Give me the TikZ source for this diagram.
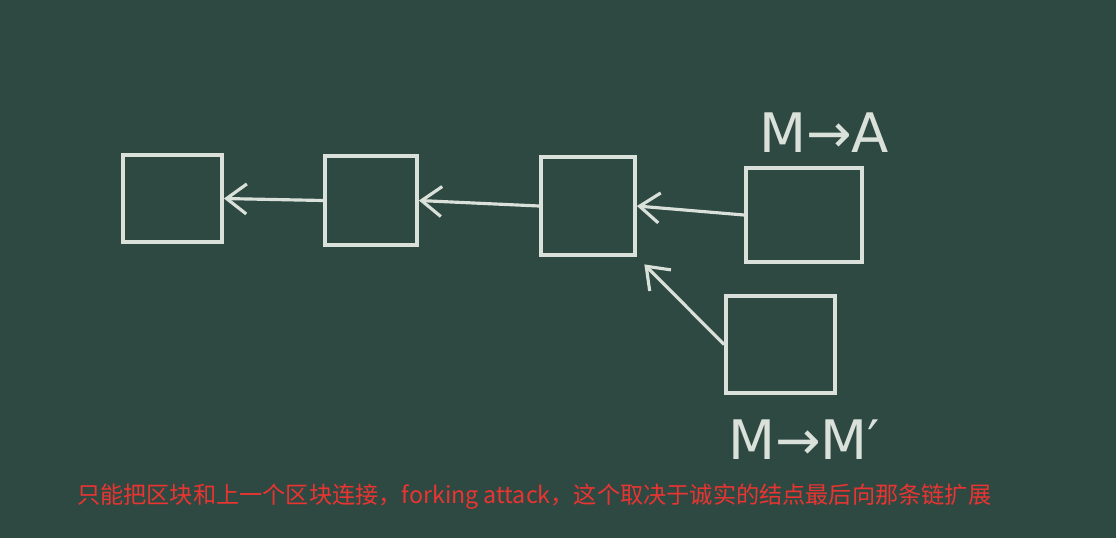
\documentclass[tikz,border=0pt]{standalone}
\usepackage{fontspec}
\usepackage{tikz}
\usetikzlibrary{arrows.meta}
\setsansfont{DejaVu Sans}
\newfontfamily\cjk{Noto Sans CJK SC}

\definecolor{board}{RGB}{46,73,65}
\definecolor{chalk}{RGB}{218,224,218}
\definecolor{subred}{RGB}{234,52,50}

\tikzset{
  blk/.style={draw=chalk, line width=2.2pt, inner sep=0pt},
  arr/.style={draw=chalk, line width=1.8pt, -{Straight Barb[length=4mm, width=6mm, line width=1.8pt]}},
  chalktext/.style={text=chalk, font=\sffamily\fontsize{31}{33}\selectfont}
}

\begin{document}
\begin{tikzpicture}[x=0.02cm, y=-0.02cm]
  \fill[board] (0,0) rectangle (1116,538);
  \useasboundingbox (0,0) rectangle (1116,538);

  % the honest chain
  \node[blk, minimum width=1.98cm, minimum height=1.74cm] (b1) at (172.5,198.5) {};
  \node[blk, minimum width=1.84cm, minimum height=1.78cm] (b2) at (371,200.5) {};
  \node[blk, minimum width=1.88cm, minimum height=1.96cm] (b3) at (588,206) {};
  % two forks
  \node[blk, minimum width=2.32cm, minimum height=1.88cm] (b4) at (804,215) {};
  \node[blk, minimum width=2.18cm, minimum height=1.94cm] (b5) at (780.5,344.5) {};

  \draw[arr] (b2.west) -- (b1.east);
  \draw[arr] (b3.west) -- (b2.east);
  \draw[arr] (b4.west) -- (b3.east);
  \draw[arr, shorten >=6pt] (b5.west) -- (b3.south east);

  \node[chalktext] (ma) at (824,133) {M→A};
  \node[chalktext] (mm) at (804,440) {M→M′};

  \node[anchor=west, text=subred, font=\cjk\fontsize{13.2}{15}\selectfont] (sub) at (71,497)
    {只能把区块和上一个区块连接，forking attack，这个取决于诚实的结点最后向那条链扩展};
\end{tikzpicture}
\end{document}
